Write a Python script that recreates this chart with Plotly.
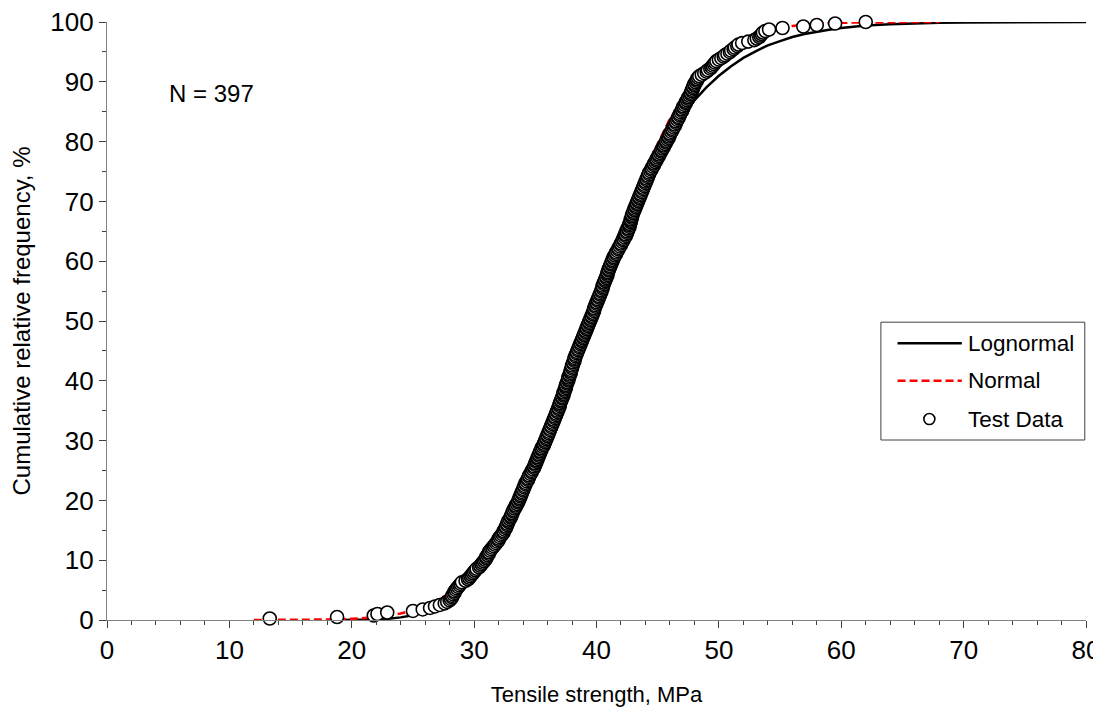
import plotly.graph_objects as go
import numpy as np

# Test data: 397 tensile strengths (MPa), sorted
strength = [
    13.3, 18.8, 21.8, 22.1, 22.9, 25.0, 25.8, 26.4, 26.8, 27.2,
    27.6, 27.8, 28.0, 28.1, 28.2, 28.2, 28.3, 28.4, 28.4, 28.5,
    28.6, 28.7, 28.8, 28.9, 29.0, 29.3, 29.5, 29.6, 29.7, 29.8,
    29.9, 30.0, 30.1, 30.2, 30.4, 30.5, 30.6, 30.7, 30.8, 30.9,
    31.0, 31.0, 31.1, 31.2, 31.2, 31.3, 31.4, 31.5, 31.6, 31.7,
    31.8, 31.9, 32.0, 32.0, 32.1, 32.2, 32.3, 32.4, 32.4, 32.5,
    32.6, 32.6, 32.7, 32.7, 32.8, 32.8, 32.9, 33.0, 33.0, 33.1,
    33.1, 33.2, 33.2, 33.3, 33.4, 33.4, 33.5, 33.6, 33.6, 33.7,
    33.7, 33.8, 33.8, 33.9, 33.9, 34.0, 34.0, 34.1, 34.1, 34.2,
    34.2, 34.3, 34.4, 34.4, 34.5, 34.5, 34.6, 34.7, 34.7, 34.8,
    34.9, 34.9, 35.0, 35.0, 35.1, 35.1, 35.2, 35.2, 35.3, 35.3,
    35.4, 35.4, 35.5, 35.5, 35.6, 35.7, 35.7, 35.8, 35.8, 35.9,
    35.9, 36.0, 36.0, 36.1, 36.1, 36.2, 36.2, 36.3, 36.3, 36.4,
    36.4, 36.5, 36.5, 36.6, 36.6, 36.7, 36.7, 36.8, 36.8, 36.9,
    36.9, 37.0, 37.0, 37.0, 37.1, 37.1, 37.2, 37.2, 37.3, 37.3,
    37.3, 37.4, 37.4, 37.5, 37.5, 37.5, 37.6, 37.6, 37.7, 37.7,
    37.7, 37.8, 37.8, 37.9, 37.9, 37.9, 38.0, 38.0, 38.0, 38.1,
    38.1, 38.2, 38.2, 38.2, 38.3, 38.3, 38.4, 38.4, 38.5, 38.5,
    38.6, 38.6, 38.7, 38.7, 38.8, 38.8, 38.9, 38.9, 39.0, 39.0,
    39.1, 39.1, 39.2, 39.2, 39.3, 39.3, 39.4, 39.4, 39.5, 39.5,
    39.6, 39.6, 39.7, 39.7, 39.8, 39.8, 39.8, 39.9, 39.9, 40.0,
    40.0, 40.1, 40.1, 40.2, 40.2, 40.3, 40.3, 40.4, 40.4, 40.5,
    40.5, 40.5, 40.6, 40.6, 40.7, 40.7, 40.8, 40.8, 40.9, 40.9,
    40.9, 41.0, 41.0, 41.1, 41.1, 41.2, 41.2, 41.3, 41.3, 41.4,
    41.4, 41.5, 41.6, 41.6, 41.7, 41.8, 41.8, 41.9, 42.0, 42.0,
    42.1, 42.2, 42.2, 42.3, 42.4, 42.4, 42.5, 42.5, 42.6, 42.6,
    42.7, 42.7, 42.7, 42.8, 42.8, 42.8, 42.9, 42.9, 42.9, 43.0,
    43.0, 43.1, 43.1, 43.2, 43.2, 43.3, 43.3, 43.4, 43.4, 43.5,
    43.5, 43.6, 43.6, 43.7, 43.7, 43.8, 43.8, 43.9, 43.9, 44.0,
    44.0, 44.1, 44.1, 44.2, 44.2, 44.3, 44.3, 44.4, 44.5, 44.5,
    44.6, 44.7, 44.7, 44.8, 44.9, 44.9, 45.0, 45.1, 45.1, 45.2,
    45.3, 45.3, 45.4, 45.5, 45.5, 45.6, 45.7, 45.7, 45.8, 45.9,
    45.9, 46.0, 46.0, 46.1, 46.2, 46.2, 46.3, 46.4, 46.4, 46.5,
    46.5, 46.6, 46.7, 46.7, 46.8, 46.8, 46.9, 47.0, 47.0, 47.1,
    47.1, 47.2, 47.3, 47.3, 47.4, 47.5, 47.5, 47.6, 47.7, 47.7,
    47.8, 47.8, 47.9, 47.9, 48.0, 48.0, 48.1, 48.2, 48.2, 48.3,
    48.4, 48.6, 48.8, 49.0, 49.1, 49.3, 49.4, 49.5, 49.6, 49.7,
    49.8, 50.0, 50.2, 50.4, 50.5, 50.7, 50.9, 51.0, 51.2, 51.3,
    51.5, 51.6, 51.9, 52.4, 52.9, 53.1, 53.3, 53.4, 53.5, 53.6,
    53.8, 54.1, 55.2, 56.9, 58.0, 59.5, 62.0,
]

# Fitted lognormal curve (x in MPa, cumulative %)
logn_x = [19, 20, 21, 22, 23, 24, 25, 26, 27, 28, 29, 30, 32, 34, 36, 38, 40,
          42, 44, 45, 46, 47, 48, 49, 50, 51, 52, 53, 54, 55, 56, 57, 58, 59,
          60, 61, 62, 64, 66, 68, 70, 75, 80]
logn_y = [0.005, 0.015, 0.04, 0.1, 0.22, 0.44, 0.81, 1.43, 2.34, 3.67, 5.5, 7.8,
          14.2, 23.0, 33.4, 44.4, 55.4, 65.5, 74.3, 78.0, 81.4, 84.3, 86.9, 89.1,
          91.0, 92.6, 94.0, 95.1, 96.1, 96.8, 97.5, 98.0, 98.4, 98.7, 99.0,
          99.22, 99.4, 99.63, 99.78, 99.87, 99.92, 99.98, 100.0]

# Fitted normal curve
norm_x = [12, 14, 16, 18, 20, 22, 24, 26, 28, 30, 32, 34, 36, 38, 40, 42, 44,
          46, 48, 50, 52, 54, 56, 58, 60, 62, 64, 66, 68]
norm_y = [0.002, 0.008, 0.024, 0.07, 0.19, 0.47, 1.07, 2.28, 4.46, 8.0, 13.5,
          21.0, 30.6, 41.7, 53.6, 65.1, 75.4, 83.8, 90.0, 94.3, 97.0, 98.5,
          99.34, 99.73, 99.89, 99.96, 99.99, 100.0, 100.0]

legend_labels = ["Lognormal", "Normal", "Test Data"]
n_label = "N = 397"

FONT = "Liberation Sans, Arial, sans-serif"
x_sorted = np.sort(np.array(strength))
cum_freq = np.arange(1, len(x_sorted) + 1) / len(x_sorted) * 100

fig = go.Figure()
fig.add_trace(go.Scatter(x=logn_x, y=logn_y, mode="lines",
                         line=dict(color="black", width=2.5),
                         name=legend_labels[0], showlegend=False, cliponaxis=False))
fig.add_trace(go.Scatter(x=norm_x, y=norm_y, mode="lines",
                         line=dict(color="#ff0000", width=2.6, dash="8px,4px"),
                         name=legend_labels[1], showlegend=False, cliponaxis=False))
fig.add_trace(go.Scatter(x=x_sorted, y=cum_freq, mode="markers",
                         marker=dict(symbol="circle", size=13, color="white",
                                     line=dict(color="black", width=1.6)),
                         name=legend_labels[2], showlegend=False, cliponaxis=False))

# Manual legend (box, samples, labels) in data coordinates
shapes = [
    dict(type="rect", xref="x", yref="y", x0=63.24, x1=79.9, y0=30.1, y1=49.8,
         line=dict(color="#404040", width=1), fillcolor="white", layer="above"),
    dict(type="line", xref="x", yref="y", x0=64.6, x1=69.85, y0=46.3, y1=46.3,
         line=dict(color="black", width=2.5), layer="above"),
    dict(type="line", xref="x", yref="y", x0=64.6, x1=69.85, y0=40.0, y1=40.0,
         line=dict(color="#ff0000", width=2.6, dash="8px,4px"), layer="above"),
    dict(type="circle", xref="x", yref="y", xsizemode="pixel", ysizemode="pixel",
         xanchor=67.2, yanchor=33.6, x0=-5.5, x1=5.5, y0=-5.5, y1=5.5,
         line=dict(color="black", width=1.6), fillcolor="white", layer="above"),
]
annotations = [
    dict(x=70.2, y=46.3, text=legend_labels[0], xanchor="left", yanchor="middle",
         showarrow=False, font=dict(family=FONT, size=22.5, color="black")),
    dict(x=70.2, y=40.0, text=legend_labels[1], xanchor="left", yanchor="middle",
         showarrow=False, font=dict(family=FONT, size=22.5, color="black")),
    dict(x=70.2, y=33.6, text=legend_labels[2], xanchor="left", yanchor="middle",
         showarrow=False, font=dict(family=FONT, size=22.5, color="black")),
    dict(x=4.9, y=88.0, text=n_label, xanchor="left", yanchor="middle",
         showarrow=False, font=dict(family=FONT, size=24, color="black")),
]

axis_common = dict(
    showgrid=False, zeroline=False, showline=True, linecolor="#808080", linewidth=1.3,
    ticks="outside", tickcolor="#404040", ticklen=7, tickwidth=1,
    tickfont=dict(family=FONT, size=26, color="black"),
    automargin=False, ticklabeloverflow="allow",
)

# the page places the figure 8px in from the top-left corner, so it is sized
# to fill the rest of the 1101x707 window
fig.update_layout(
    width=1093, height=699,
    margin=dict(l=99, r=15, t=14, b=87),
    paper_bgcolor="white", plot_bgcolor="white",
    showlegend=False,
    shapes=shapes, annotations=annotations,
    xaxis=dict(range=[0, 80], dtick=10, tick0=0,
               minor=dict(dtick=2, ticks="outside", ticklen=4, tickcolor="#404040"),
               title=dict(text="Tensile strength, MPa", standoff=32,
                          font=dict(family=FONT, size=22, color="black")),
               **axis_common),
    yaxis=dict(range=[0, 100], dtick=10, tick0=0,
               minor=dict(dtick=5, ticks="outside", ticklen=4, tickcolor="#404040"),
               title=dict(text="Cumulative relative frequency, %", standoff=22,
                          font=dict(family=FONT, size=24, color="black")),
               **axis_common),
)

fig.write_html("out.html")
